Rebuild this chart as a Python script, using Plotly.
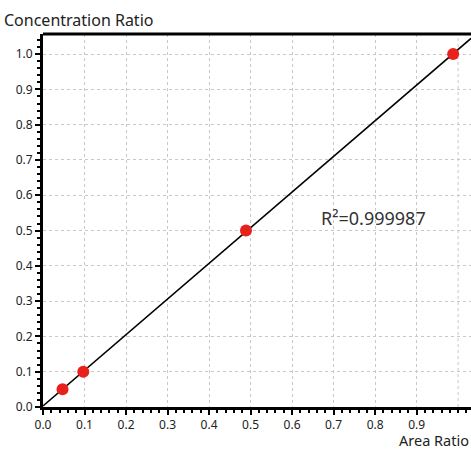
import numpy as np
import plotly.graph_objects as go

# Calibration data: area ratio vs. concentration ratio
area_ratio = [0.047, 0.097, 0.489, 0.988]
conc_ratio = [0.05, 0.10, 0.50, 1.00]
r2_label = "R²=0.999987"
tick_vals = [round(0.1 * i, 1) for i in range(11)]
x_ticks = [f"{v:.1f}" for v in tick_vals[:10]]
y_ticks = [f"{v:.1f}" for v in tick_vals]

x_max = 1.031
y_max = 1.057

# Least-squares calibration line
slope, intercept = np.polyfit(area_ratio, conc_ratio, 1)
fit_x = np.array([0.0, x_max])
fit_y = slope * fit_x + intercept

font_family = "Noto Sans"

fig = go.Figure()
fig.add_trace(go.Scatter(x=fit_x, y=fit_y, mode="lines",
                         line=dict(color="black", width=1.6),
                         hoverinfo="skip", showlegend=False))
fig.add_trace(go.Scatter(x=area_ratio, y=conc_ratio, mode="markers",
                         marker=dict(color="#e8211d", size=12, line=dict(width=0)),
                         showlegend=False))

grid = dict(showgrid=True, gridcolor="#c8c8c8", griddash="dot", gridwidth=1,
            zeroline=False, showline=True, linecolor="black", linewidth=3,
            ticks="outside", ticklen=5, tickwidth=1.5, tickcolor="black",
            tickfont=dict(family=font_family, size=12, color="#222"))

fig.update_layout(
    width=471, height=451,
    margin=dict(l=43, r=0, t=34, b=44),
    paper_bgcolor="white", plot_bgcolor="white",
    xaxis=dict(range=[0, x_max], tickvals=tick_vals[:10], ticktext=x_ticks,
               minor=dict(dtick=0.02, tick0=0, ticks="outside", ticklen=3,
                          tickcolor="black", showgrid=False),
               **grid),
    yaxis=dict(range=[0, y_max], tickvals=tick_vals, ticktext=y_ticks,
               minor=dict(dtick=0.02, tick0=0, ticks="outside", ticklen=3,
                          tickcolor="black", showgrid=False),
               **grid),
    shapes=[dict(type="line", xref="paper", yref="paper", x0=0, x1=1, y0=1, y1=1,
                 line=dict(color="black", width=3)),
            dict(type="line", xref="x", yref="paper", x0=1.0, x1=1.0, y0=0, y1=1,
                 line=dict(color="#c8c8c8", width=1, dash="dot"), layer="below")],
    annotations=[
        dict(text="Concentration Ratio", xref="paper", yref="paper",
             x=-41 / 428, y=1 + 14 / 373, xanchor="left", yanchor="middle",
             showarrow=False, font=dict(family=font_family, size=16, color="#222")),
        dict(text="Area Ratio", xref="paper", yref="paper",
             x=0.998, y=-43.5 / 373, xanchor="right", yanchor="bottom",
             borderpad=0, showarrow=False,
             font=dict(family=font_family, size=14.5, color="#222")),
        dict(text=r2_label, x=0.664, y=0.535, xref="x", yref="y",
             xanchor="left", yanchor="middle", showarrow=False,
             font=dict(family=font_family, size=18, color="#333")),
    ],
)

fig.write_html("out.html")
